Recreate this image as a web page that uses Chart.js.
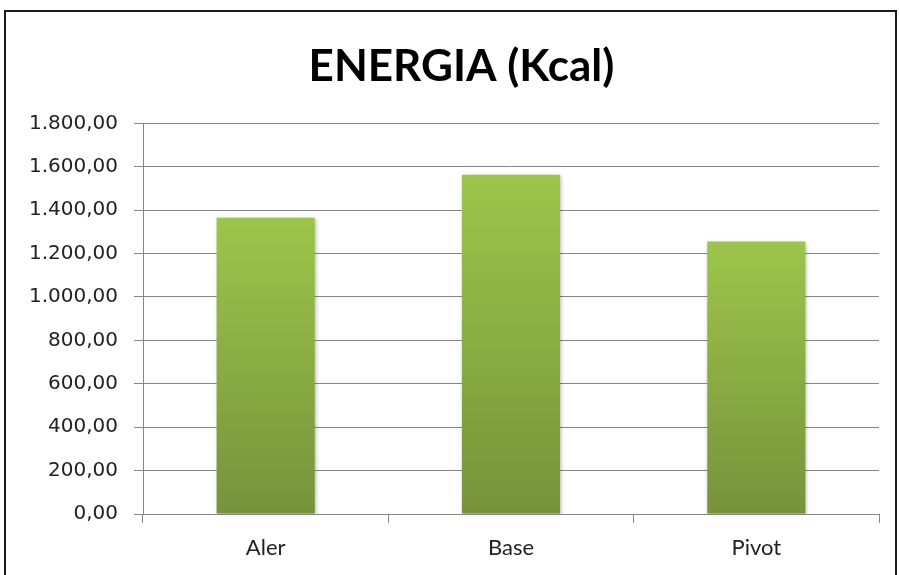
<!DOCTYPE html>
<html>
<head>
<meta charset="utf-8">
<script src="https://cdn.jsdelivr.net/npm/chart.js@4.4.1/dist/chart.umd.min.js"></script>
<style>
  html, body { margin: 0; padding: 0; background: #fff; }
  #wrap { position: relative; width: 899px; height: 575px; overflow: hidden; }
  #frame { position: absolute; left: 4px; top: 10px; width: 889px; height: 700px;
           border: 2px solid #1c1c1c; pointer-events: none; }
</style>
</head>
<body>
<div id="wrap">
  <canvas id="energia_chart" width="899" height="575"></canvas>
  <div id="frame"></div>
</div>
<script>
// data
const categories = ['Aler', 'Base', 'Pivot'];
const energyValues = [1365, 1563, 1255];
const chartTitle = 'ENERGIA (Kcal)';
const yMin = 0, yMax = 1800, yStep = 200;

// 1.800,00 style numbers
function fmt(v) {
  const parts = v.toFixed(2).split('.');
  const intPart = parts[0].replace(/\B(?=(\d{3})+(?!\d))/g, '.');
  return intPart + ',' + parts[1];
}

// top light green -> bottom darker green, per bar
function barGradient(context) {
  const chart = context.chart;
  const area = chart.chartArea;
  if (!area) return '#8db446';
  const yScale = chart.scales.y;
  const top = yScale.getPixelForValue(context.raw);
  const bottom = yScale.getPixelForValue(0);
  const g = chart.ctx.createLinearGradient(0, top, 0, bottom);
  g.addColorStop(0, '#9dc54b');
  g.addColorStop(1, '#76933b');
  return g;
}

// soft shadow round the bars
const barShadow = {
  id: 'barShadow',
  beforeDatasetsDraw(chart) {
    const ctx = chart.ctx;
    ctx.save();
    ctx.shadowColor = 'rgba(0,0,0,0.28)';
    ctx.shadowBlur = 4;
    ctx.shadowOffsetX = 1;
    ctx.shadowOffsetY = 1;
  },
  afterDatasetsDraw(chart) {
    chart.ctx.restore();
  }
};

// nudge the title box so it is centred a bit right, like the original
const titleShift = {
  id: 'titleShift',
  afterLayout(chart) {
    if (chart.titleBlock) chart.titleBlock.left += 34;
  }
};

const gridGray = '#868686';

const ctx = document.getElementById('energia_chart').getContext('2d');
new Chart(ctx, {
  type: 'bar',
  data: {
    labels: categories,
    datasets: [{
      label: chartTitle,
      data: energyValues,
      backgroundColor: barGradient,
      borderWidth: 0,
      barPercentage: 0.4,
      categoryPercentage: 1.0
    }]
  },
  plugins: [barShadow, titleShift],
  options: {
    responsive: false,
    animation: false,
    layout: { padding: { top: 0, left: 10, right: 20, bottom: 0 } },
    plugins: {
      legend: { display: false },
      tooltip: { enabled: false },
      title: {
        display: true,
        text: chartTitle,
        color: '#000',
        font: { family: 'Lato', size: 44, weight: 'bold', lineHeight: 1.2 },
        padding: { top: 40, bottom: 30.5 }
      }
    },
    scales: {
      x: {
        afterFit: s => { s.height = 61; },
        grid: { offset: true, drawOnChartArea: false, drawTicks: true, tickLength: 9, color: gridGray },
        border: { color: gridGray, width: 1 },
        ticks: {
          color: '#222',
          padding: 12,
          font: { family: 'Lato', size: 22, lineHeight: 1.2 }
        }
      },
      y: {
        min: yMin,
        max: yMax,
        afterFit: s => { s.width = 133; },
        grid: { color: gridGray, drawTicks: true, tickLength: 9 },
        border: { color: gridGray, width: 1 },
        ticks: {
          stepSize: yStep,
          color: '#222',
          padding: 16,
          font: { family: 'DejaVu Sans', size: 20 },
          callback: v => fmt(v)
        }
      }
    }
  }
});
</script>
</body>
</html>
